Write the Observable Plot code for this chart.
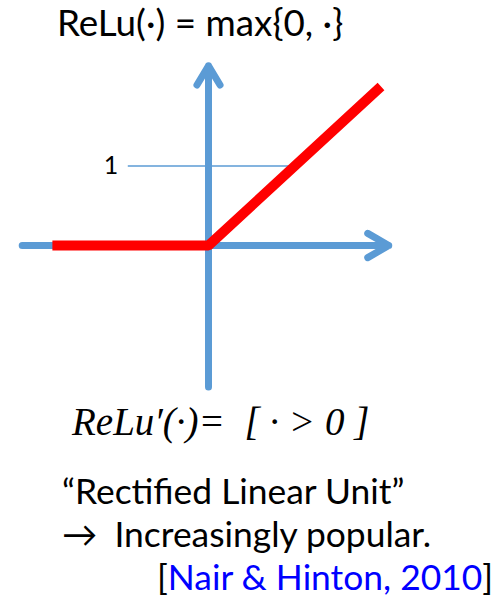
<!DOCTYPE html>
<html>
<head>
<meta charset="utf-8">
<script src="https://cdn.jsdelivr.net/npm/d3@7"></script>
<script src="https://cdn.jsdelivr.net/npm/@observablehq/plot@0.6"></script>
<style>
  html, body { margin: 0; padding: 0; background: #fff; }
  #page { position: relative; width: 502px; height: 600px; overflow: hidden; }
  .t { position: absolute; white-space: pre; line-height: 1; }
  #title { left: 57px; top: 4px; font-family: Lato, "Open Sans", sans-serif; font-size: 36.8px; color: #000; }
  #deriv { left: 72px; top: 402px; font-family: "Liberation Serif", "DejaVu Serif", serif; font-style: italic; font-size: 39px; color: #000; }
  .cap { font-family: Lato, "Open Sans", sans-serif; font-size: 35.4px; color: #000; }
  #l1 { left: 62px; top: 473px; }
  #l2 { left: 62px; top: 516px; }
  #l3 { left: 157px; top: 559px; }
  .arr { margin-right: 8px; }
  .blue { color: #0000FF; }
  #chart { position: absolute; left: 0; top: 55px; }
</style>
</head>
<body>
<div id="page">
  <div class="t" id="title">ReLu(·) = max{0, ·}</div>
  <div id="chart"></div>
  <div class="t" id="deriv">ReLu′(·)=  [ · &gt; 0 ]</div>
  <div class="t cap" id="l1">“Rectified Linear Unit”</div>
  <div class="t cap" id="l2"><span class="arr">→</span> Increasingly popular.</div>
  <div class="t cap" id="l3">[<span class="blue">Nair &amp; Hinton, 2010</span>]</div>
</div>
<script>
// ReLU curve (x, y) points
const reluX = [-1.81, 0, 2];
const reluY = [0, 0, 2];
// axis extents (data units)
const xAxisRange = [-2.16, 2.09];
const yAxisRange = [-1.78, 2.26];
// guide line at y = 1
const guideX = [-0.93, 1];
const guideY = 1;
const guideLabel = "1";

const relu = reluX.map((x, i) => ({x, y: reluY[i]}));
const axisBlue = "#5B9BD5";

const plot = Plot.plot({
  width: 502,
  height: 340,
  margin: 0,
  x: {domain: [-2.4116, 3.4087], axis: null},
  y: {domain: [-1.887, 2.390], axis: null},
  marks: [
    Plot.ruleY([guideY], {x1: guideX[0], x2: guideX[1], stroke: axisBlue, strokeWidth: 1.5}),
    Plot.text([guideLabel], {x: guideX[0], y: guideY, text: d => d, textAnchor: "end", dx: -10, fill: "#000"}),
    Plot.arrow([{x1: xAxisRange[0], x2: xAxisRange[1]}], {x1: "x1", x2: "x2", y1: 0, y2: 0, stroke: axisBlue, strokeWidth: 7, headLength: 5.2, headAngle: 60}),
    Plot.arrow([{y1: yAxisRange[0], y2: yAxisRange[1]}], {x1: 0, x2: 0, y1: "y1", y2: "y2", stroke: axisBlue, strokeWidth: 7, headLength: 4.8, headAngle: 62}),
    Plot.line(relu, {x: "x", y: "y", stroke: "#FF0000", strokeWidth: 10, strokeLinecap: "butt", strokeLinejoin: "miter"})
  ]
});
plot.querySelectorAll("text").forEach(t => {
  t.style.fontSize = "25px";
  t.style.fontFamily = "Lato, sans-serif";
});
document.getElementById("chart").appendChild(plot);
</script>
</body>
</html>
